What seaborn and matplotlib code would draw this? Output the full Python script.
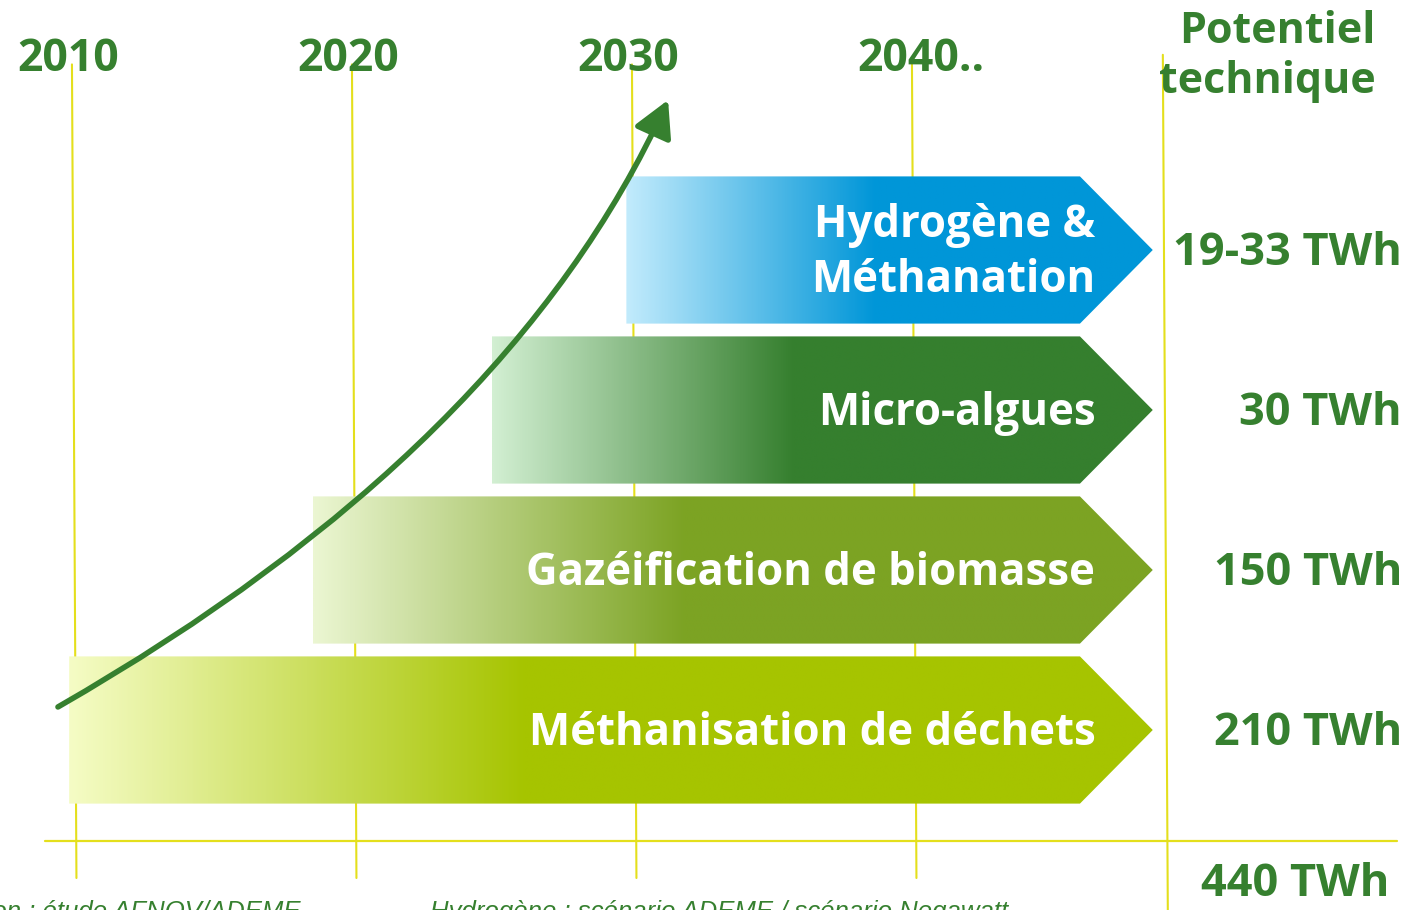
import numpy as np
import matplotlib
matplotlib.use("Agg")
import matplotlib.pyplot as plt
from matplotlib.patches import Polygon, FancyArrowPatch
from matplotlib.path import Path
import seaborn as sns

filieres = ["Hydrogène &\nMéthanation", "Micro-algues", "Gazéification de biomasse", "Méthanisation de déchets"]
annee_debut = [2029.8, 2025.0, 2018.6, 2009.9]
annee_pleine = [2038.7, 2035.8, 2031.9, 2026.2]   # fin du dégradé
couleur_claire = ["#c2ebfc", "#d2efd2", "#ebf6d2", "#f5fcc5"]
couleur_pleine = ["#0096d8", "#357f2e", "#7ca323", "#a6c400"]
potentiel = ["19-33 TWh", "30 TWh", "150 TWh", "210 TWh"]
potentiel_total = "440 TWh"
annees = [2010, 2020, 2030, 2040]
annees_labels = ["2010", "2020", "2030", "2040.."]
fin_corps = 2046.0
fin_pointe = 2048.6

VERT = "#36802f"
JAUNE = "#e4df1c"

sns.set_theme(style="white")
plt.rcParams["font.family"] = ["Open Sans", "DejaVu Sans"]

fig = plt.figure(figsize=(14.14, 9.10), dpi=100)
ax = fig.add_axes([0, 0, 1, 1])
ax.set_xlim(2007.43, 2057.93)
ax.set_ylim(4.125, -1.5625)
ax.axis("off")

# lignes verticales des années
for a in annees:
    ax.plot([a, a + 0.16], [-1.16, 3.925], color=JAUNE, lw=1.5, zorder=1)
ax.plot([2048.96, 2049.14], [-1.22, 4.2], color=JAUNE, lw=1.5, zorder=1)
ax.plot([2009.04, 2057.32], [3.694, 3.694], color=JAUNE, lw=1.6, zorder=1)

for a, lab in zip(annees, annees_labels):
    ax.text(a - 1.95, -1.19, lab, ha="left", va="center", fontsize=32,
            fontweight="bold", color=VERT)

ax.text(2056.55, -1.21, "Potentiel\ntechnique", ha="right", va="center",
        multialignment="right", fontsize=31, fontweight="bold", color=VERT,
        linespacing=1.22)

# flèches en dégradé
h = 0.92
for i, (nom, x0, xp, c1, c2, pot) in enumerate(zip(filieres, annee_debut, annee_pleine,
                                                 couleur_claire, couleur_pleine, potentiel)):
    y = i
    pts = [(x0, y - h / 2), (fin_corps, y - h / 2), (fin_pointe, y),
           (fin_corps, y + h / 2), (x0, y + h / 2)]
    poly = Polygon(pts, closed=True, facecolor="none", edgecolor="none", zorder=2)
    ax.add_patch(poly)
    cmap = sns.blend_palette([c1, c2], n_colors=256, as_cmap=True)
    xs = np.linspace(x0, fin_pointe, 600)
    grad = np.clip((xs - x0) / (xp - x0), 0, 1)[None, :]
    im = ax.imshow(grad, cmap=cmap, vmin=0, vmax=1, aspect="auto",
                   extent=[x0, fin_pointe, y + h / 2, y - h / 2], zorder=2,
                   interpolation="bilinear")
    im.set_clip_path(poly)
    ax.text(2046.55, y + 0.02, nom, ha="right", va="center", fontsize=31.5,
            fontweight="bold", color="white", linespacing=1.3, zorder=4)
    ax.text(2057.5, y + 0.02, pot, ha="right", va="center", fontsize=32.5,
            fontweight="bold", color=VERT, zorder=4)

ax.text(2053.7, 3.965, potentiel_total, ha="center", va="center", fontsize=32.5,
        fontweight="bold", color=VERT)

# courbe de croissance
courbe = Path([(2009.5, 2.856), (2025.64, 1.2375), (2031.29, -0.9375)],
              [Path.MOVETO, Path.CURVE3, Path.CURVE3])
fl = FancyArrowPatch(path=courbe,
                     arrowstyle="-|>,head_length=1.1,head_width=0.6",
                     mutation_scale=20, lw=4.0, color=VERT, zorder=5)
ax.add_patch(fl)

# sources (coupées en bas)
ax.text(2018.15, 4.06, "Gazéification : étude AFNOV/ADEME", ha="right", va="top",
        fontsize=18.5, style="italic", color=VERT, family="Liberation Sans")
ax.text(2022.8, 4.06, "Hydrogène : scénario ADEME / scénario Negawatt", ha="left",
        va="top", fontsize=18.5, style="italic", color=VERT, family="Liberation Sans")

fig.savefig("out.png", dpi=100)
